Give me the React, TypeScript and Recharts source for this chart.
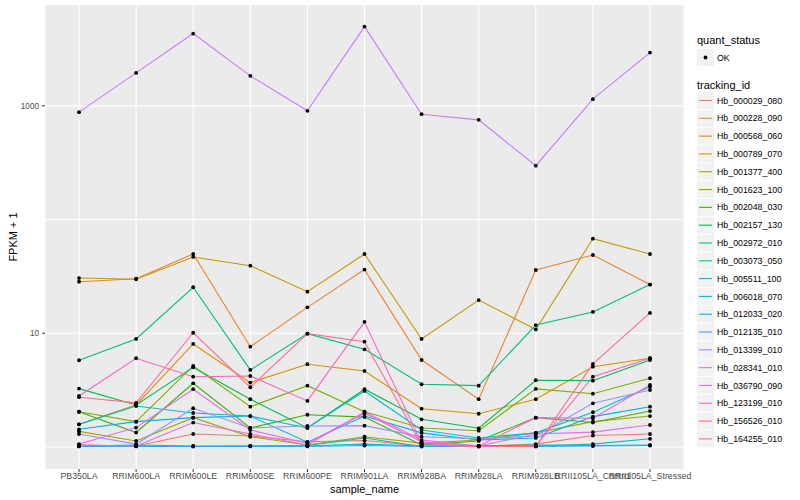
import React from 'react';
import {
  LineChart,
  Line,
  XAxis,
  YAxis,
  CartesianGrid,
  Legend,
} from 'recharts';

// samples on the x axis
const samples = [
  'PB350LA',
  'RRIM600LA',
  'RRIM600LE',
  'RRIM600SE',
  'RRIM600PE',
  'RRIM901LA',
  'RRIM928BA',
  'RRIM928LA',
  'RRIM928LB',
  'RRII105LA_Control',
  'RRII105LA_Stressed',
];

const trackingIds = [
  'Hb_000029_080',
  'Hb_000228_090',
  'Hb_000568_060',
  'Hb_000789_070',
  'Hb_001377_400',
  'Hb_001623_100',
  'Hb_002048_030',
  'Hb_002157_130',
  'Hb_002972_010',
  'Hb_003073_050',
  'Hb_005511_100',
  'Hb_006018_070',
  'Hb_012033_020',
  'Hb_012135_010',
  'Hb_013399_010',
  'Hb_028341_010',
  'Hb_036790_090',
  'Hb_123199_010',
  'Hb_156526_010',
  'Hb_164255_010',
];

// FPKM + 1 per sample
const hb000029 = [1.04, 1.02, 1.3, 1.25, 1.11, 1.14, 1.02, 1.02, 1.06, 1.26, 1.3];
const hb000228 = [28.4, 30.2, 49.8, 7.62, 16.9, 36.3, 5.82, 2.63, 36.0, 48.8, 26.8];
const hb000568 = [1.58, 2.34, 8.05, 3.68, 5.34, 4.66, 2.17, 1.96, 2.63, 5.08, 6.03];
const hb000789 = [30.6, 29.9, 46.9, 39.3, 23.2, 49.8, 8.91, 19.6, 10.8, 67.9, 49.8];
const hb001377 = [1.37, 1.13, 1.81, 1.23, 1.04, 1.23, 1.08, 1.15, 1.33, 1.67, 1.87];
const hb001623 = [2.04, 1.67, 5.16, 2.26, 3.46, 2.04, 1.47, 1.39, 3.24, 2.94, 4.02];
const hb002048 = [2.04, 1.34, 3.63, 1.47, 1.92, 1.83, 1.04, 1.13, 1.81, 1.64, 2.07];
const hb002157 = [3.26, 2.34, 5.02, 2.63, 1.47, 3.22, 1.75, 1.46, 3.86, 3.83, 5.82];
const hb002972 = [5.79, 8.91, 25.4, 4.76, 9.92, 7.23, 3.56, 3.46, 11.8, 15.4, 26.8];
const hb003073 = [1.02, 1.04, 1.02, 1.02, 1.03, 1.2, 1.01, 1.02, 1.02, 1.06, 1.18];
const hb005511 = [1.58, 2.29, 1.99, 1.87, 1.47, 3.11, 1.41, 1.2, 1.33, 2.02, 3.39];
const hb006018 = [1.02, 1.02, 1.01, 1.02, 1.02, 1.06, 1.02, 1.02, 1.04, 1.03, 1.04];
const hb012033 = [1.43, 1.67, 1.81, 1.87, 1.1, 1.87, 1.33, 1.15, 1.2, 1.85, 2.26];
const hb012135 = [1.01, 1.01, 1.01, 1.01, 1.01, 1.03, 1.01, 1.01, 1.01, 1.02, 1.03];
const hb013399 = [1.3, 1.06, 2.19, 1.47, 1.53, 1.54, 1.23, 1.18, 1.25, 2.42, 3.17];
const hb028341 = [880, 1950, 4325, 1836, 904, 4980, 845, 753, 298, 1146, 2943];
const hb036790 = [1.06, 1.48, 3.22, 1.41, 1.08, 1.98, 1.11, 1.02, 1.3, 1.35, 1.56];
const hb123199 = [1.04, 1.02, 1.64, 1.3, 1.04, 2.04, 1.15, 1.02, 1.81, 1.79, 3.51];
const hb156526 = [2.81, 6.03, 4.15, 4.21, 2.54, 12.6, 1.08, 1.01, 1.02, 4.15, 6.03];
const hb164255 = [2.74, 2.44, 10.1, 3.35, 9.92, 8.44, 1.04, 1.01, 1.01, 5.37, 15.1];

const seriesValues = [
  hb000029, hb000228, hb000568, hb000789, hb001377,
  hb001623, hb002048, hb002157, hb002972, hb003073,
  hb005511, hb006018, hb012033, hb012135, hb013399,
  hb028341, hb036790, hb123199, hb156526, hb164255,
];

const yTicks = [10, 1000];
const gridValues = [1, 10, 100, 1000];

// ggplot default hue palette for 20 levels
const COLORS = [
  '#F8766D', '#EA8331', '#D89000', '#C09B00', '#A3A500',
  '#7CAE00', '#39B600', '#00BB4E', '#00BF7D', '#00C1A3',
  '#00BFC4', '#00BAE0', '#00B0F6', '#35A2FF', '#9590FF',
  '#C77CFF', '#E76BF3', '#FA62DB', '#FF62BC', '#FF6C91',
];

const FONT = '"Liberation Sans", Arial, Helvetica, sans-serif';

const chartData = samples.map((name, i) => {
  const row: Record<string, string | number> = { sample_name: name };
  trackingIds.forEach((id, k) => {
    row[id] = seriesValues[k][i];
  });
  return row;
});

const YTitle = (props: any) => {
  const vb = props.viewBox || { x: 0, y: 0, height: 0 };
  const cx = vb.x + 13;
  const cy = vb.y + vb.height / 2;
  return (
    <text
      x={cx}
      y={cy}
      transform={`rotate(-90 ${cx} ${cy})`}
      textAnchor="middle"
      dominantBaseline="central"
      fontSize={11}
      fontFamily={FONT}
      fill="#000"
    >
      FPKM + 1
    </text>
  );
};

const renderLegend = () => {
  const step = 17.81;
  return (
    <svg width={110} height={460} style={{ display: 'block' }}>
      <text x={7} y={44} fontSize={11} fontFamily={FONT} fill="#000">
        quant_status
      </text>
      <rect x={7} y={49} width={17} height={17} fill="#F2F2F2" />
      <circle cx={15.5} cy={57.5} r={1.9} fill="#000" />
      <text x={27} y={60.6} fontSize={8.8} fontFamily={FONT} fill="#000">
        OK
      </text>
      <text x={7} y={89} fontSize={11} fontFamily={FONT} fill="#000">
        tracking_id
      </text>
      {trackingIds.map((id, k) => {
        const top = 92 + k * step;
        const mid = top + 8.5;
        return (
          <g key={id}>
            <rect x={7} y={top} width={17} height={17} fill="#F2F2F2" />
            <line x1={9} x2={22} y1={mid} y2={mid} stroke={COLORS[k]} strokeWidth={1.1} />
            <text x={27} y={mid + 3.1} fontSize={8.8} fontFamily={FONT} fill="#000">
              {id}
            </text>
          </g>
        );
      })}
    </svg>
  );
};

export default function App() {
  return (
    <div style={{ position: 'absolute', left: 0, top: 0, width: 800, height: 500, background: '#fff' }}>
      <LineChart
        width={800}
        height={500}
        data={chartData}
        margin={{ top: 5, right: 116, bottom: 0, left: 0 }}
      >
        <CartesianGrid
          fill="#EBEBEB"
          stroke="#FFFFFF"
          strokeWidth={1.1}
          horizontalValues={gridValues}
        />
        <XAxis
          dataKey="sample_name"
          type="category"
          scale="point"
          padding={{ left: 34, right: 34 }}
          height={31}
          axisLine={false}
          tickSize={3}
          tickMargin={1}
          tickLine={{ stroke: '#333333' }}
          tick={{ fontSize: 8.8, fill: '#4D4D4D', fontFamily: FONT }}
          interval={0}
          label={{
            value: 'sample_name',
            position: 'insideBottom',
            offset: 7,
            fontSize: 11,
            fill: '#000',
            fontFamily: FONT,
          }}
        />
        <YAxis
          type="number"
          scale="log"
          domain={[0.64, 7710]}
          allowDataOverflow
          ticks={yTicks}
          width={45}
          axisLine={false}
          tickSize={3}
          tickMargin={3}
          tickLine={{ stroke: '#333333' }}
          tick={{ fontSize: 8.2, fill: '#4D4D4D', fontFamily: FONT }}
          label={<YTitle />}
        />
        <Legend
          layout="vertical"
          align="center"
          verticalAlign="middle"
          content={renderLegend}
          wrapperStyle={{ left: 690, top: 0, width: 110, height: 460 }}
        />
        {trackingIds.map((id, k) => (
          <Line
            key={`line-${id}`}
            dataKey={id}
            stroke={COLORS[k]}
            strokeWidth={1.1}
            dot={false}
            activeDot={false}
            type="linear"
            isAnimationActive={false}
          />
        ))}
        {trackingIds.map((id) => (
          <Line
            key={`pts-${id}`}
            dataKey={id}
            stroke="none"
            dot={{ r: 1.9, fill: '#000', stroke: 'none' }}
            activeDot={false}
            legendType="none"
            type="linear"
            isAnimationActive={false}
          />
        ))}
      </LineChart>
    </div>
  );
}
